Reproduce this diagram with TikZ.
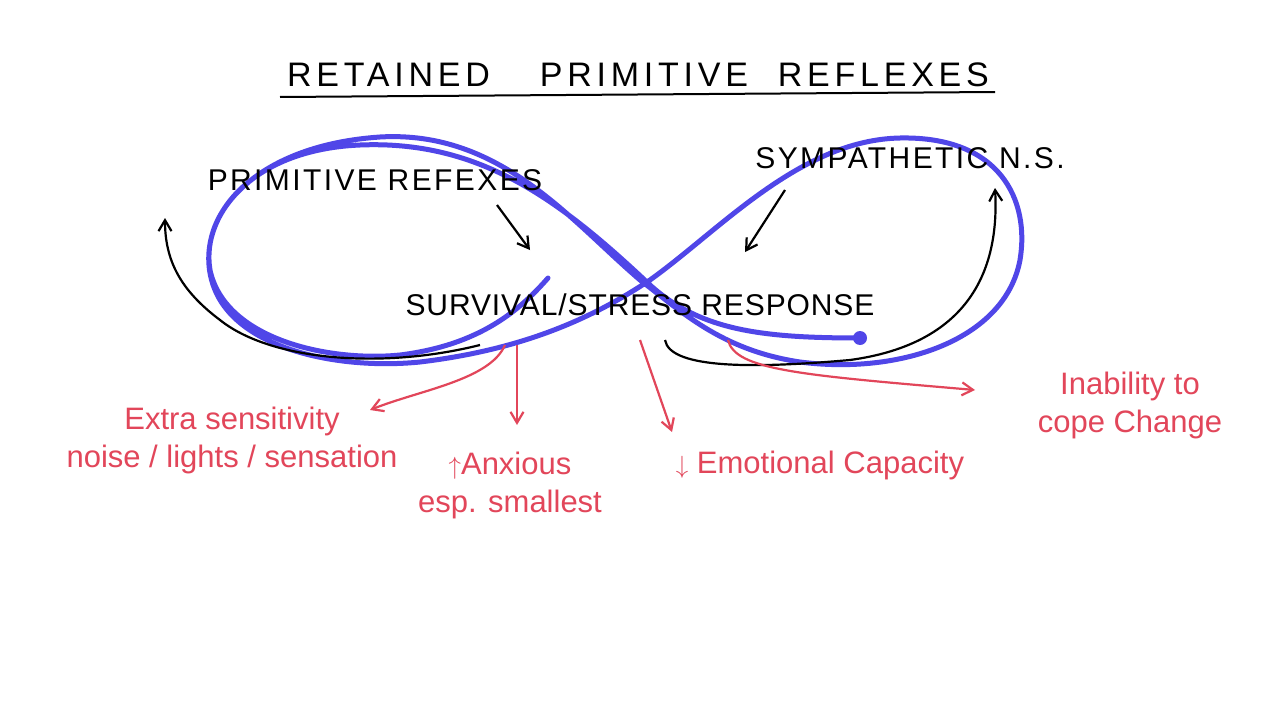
\documentclass[tikz,border=0pt]{standalone}
\usepackage{fontspec}
\setmainfont{Liberation Sans}
\usetikzlibrary{arrows.meta}
\definecolor{loopblue}{RGB}{80,70,232}
\definecolor{pen}{RGB}{226,70,90}
\begin{document}
\begin{tikzpicture}[x=1pt,y=-1pt,
  blk/.style={font=\fontsize{30}{34}\selectfont\addfontfeature{LetterSpace=8}},
  rd/.style={text=pen,font=\fontsize{31}{38}\selectfont,align=center},
  barr/.style={-{Straight Barb[length=11pt,width=13pt]},line width=2.2pt,black},
  rarr/.style={-{Straight Barb[length=11pt,width=13pt]},line width=2.2pt,pen},
  loopline/.style={line width=5pt,loopblue,line cap=round}]
\fill[white] (0,0) rectangle (1280,720);
\useasboundingbox (0,0) rectangle (1280,720);
% title
\node[blk,font=\fontsize{34}{38}\selectfont\addfontfeature{LetterSpace=14}] (title) at (638,75) {RETAINED\hspace{50pt}PRIMITIVE\hspace{30pt}REFLEXES};
\draw[line width=2pt] (280,97) -- (995,92);
% blue loop
\draw[loopline] (860,338) .. controls (760,338) and (700,330) .. (650,285)
  .. controls (560,200) and (480,140) .. (360,145)
  .. controls (240,150) and (190,230) .. (215,290)
  .. controls (240,350) and (340,370) .. (420,362)
  .. controls (520,350) and (590,320) .. (650,280)
  .. controls (720,230) and (800,140) .. (900,138)
  .. controls (1000,136) and (1030,200) .. (1020,260)
  .. controls (1005,340) and (900,375) .. (800,362)
  .. controls (720,350) and (680,310) .. (640,280)
  .. controls (570,220) and (500,130) .. (380,137)
  .. controls (260,145) and (200,210) .. (210,270)
  .. controls (225,340) and (330,362) .. (400,355)
  .. controls (480,345) and (520,310) .. (548,278);
\fill[loopblue] (860,338) circle (7pt);
% texts
\node[blk] (prim) at (375,180) {PRIMITIVE REFEXES};
\node[blk] (symp) at (910,158) {SYMPATHETIC N.S.};
\node[blk,font=\fontsize{30}{34}\selectfont\addfontfeature{LetterSpace=3}] (surv) at (640,305) {SURVIVAL/STRESS RESPONSE};
\coordinate (pa) at (497,205); \coordinate (pb) at (530,250);
\coordinate (sa) at (785,190); \coordinate (sb) at (745,252);
\draw[barr] (pa) -- (pb);
\draw[barr] (sa) -- (sb);
\coordinate (l0) at (480,345); \coordinate (l1) at (165,218);
\draw[barr] (l0) .. controls (380,370) and (270,360) .. (220,320) .. controls (180,290) and (165,260) .. (l1);
\coordinate (r0) at (665,340); \coordinate (r1) at (995,188);
\draw[barr] (r0) .. controls (670,370) and (760,368) .. (850,360) .. controls (960,345) and (1000,280) .. (r1);
% red
\node[rd] (extra) at (232,440) {Extra sensitivity\\noise / lights / sensation};
\node[rd] (anx) at (510,485) {$\uparrow$Anxious\\esp. smallest};
\node[rd] (emo) at (820,465) {$\downarrow$ Emotional Capacity};
\node[rd] (inab) at (1130,405) {Inability to\\cope Change};
\coordinate (e0) at (505,345); \coordinate (a0) at (517,345);
\coordinate (m0) at (640,340); \coordinate (i0) at (728,340);
\draw[rarr] (e0) .. controls (490,380) and (420,390) .. (370,410);
\draw[rarr] (a0) -- (517,425);
\draw[rarr] (m0) -- (672,432);
\draw[rarr] (i0) .. controls (735,370) and (800,375) .. (975,390);
\end{tikzpicture}
\end{document}
